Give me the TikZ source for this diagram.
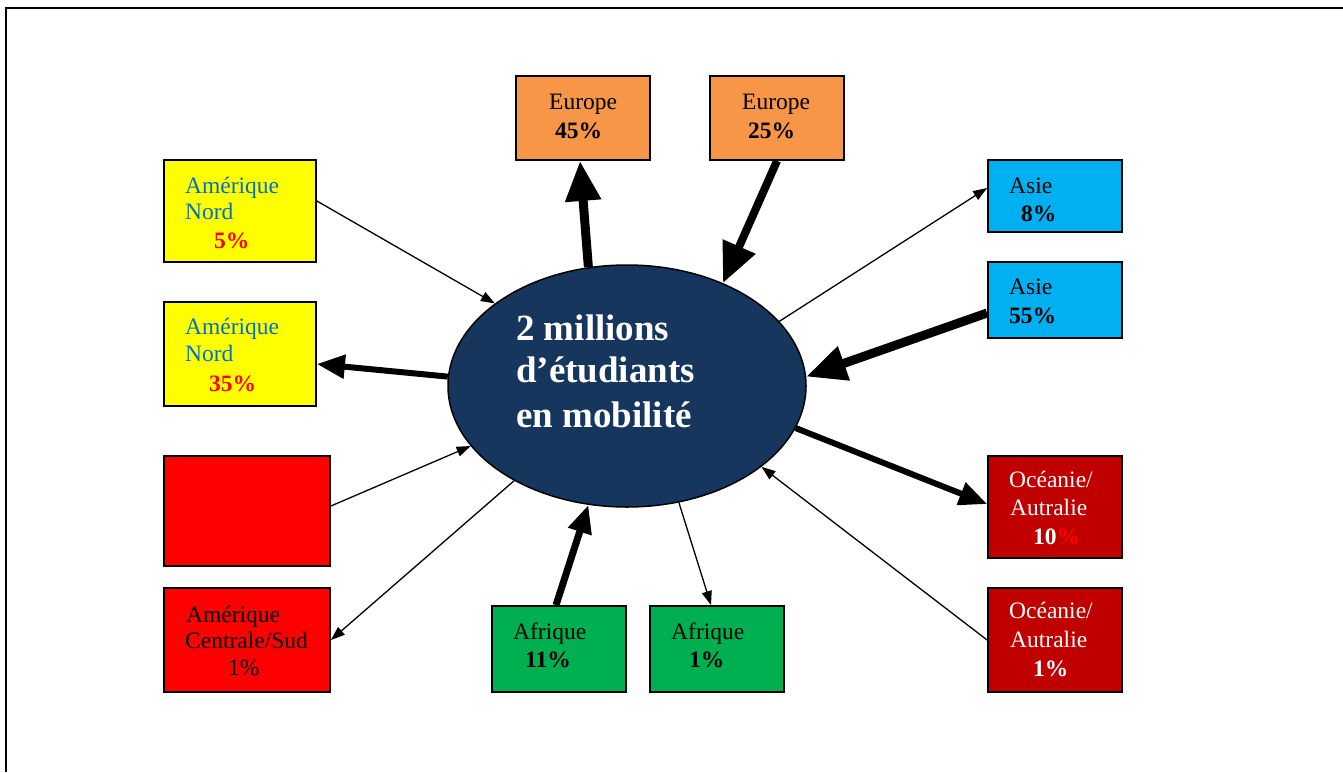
\documentclass[tikz,border=0pt]{standalone}
\usepackage{fontspec}
\setmainfont{Liberation Serif}
\usetikzlibrary{arrows.meta,shapes.geometric}
\definecolor{nblue}{HTML}{0070C0}
\definecolor{nred}{HTML}{FF0000}
\definecolor{norange}{HTML}{F79646}
\definecolor{ncyan}{HTML}{00B0F0}
\definecolor{ndred}{HTML}{C00000}
\definecolor{ngreen}{HTML}{00B050}
\definecolor{nyellow}{HTML}{FFFF00}
\definecolor{navy}{HTML}{17365D}
\begin{document}
\begin{tikzpicture}[x=1pt,y=-1pt,
  box/.style={draw=black, line width=1.8pt, inner sep=0pt},
  lbl/.style={anchor=base west, inner sep=0pt, font=\fontsize{23.5}{27}\selectfont},
  big/.style={anchor=base west, inner sep=0pt, text=white, font=\fontsize{37}{43}\selectfont\bfseries},
  thinarr/.style={line width=1.3pt, -{Triangle[length=14pt,width=10pt]}},
  arrbig/.style={-{Triangle[length=40pt,width=34pt]}},
  arrmid/.style={-{Triangle[length=28pt,width=23pt]}}]
\useasboundingbox (0,0) rectangle (1343,772);
\draw[line width=2.5pt] (6,772) -- (6,8) -- (1343,8);

% boxes
\node[box, fill=nyellow, minimum width=152pt, minimum height=102pt] (an5) at (240,211) {};
\node[box, fill=nyellow, minimum width=152pt, minimum height=104pt] (an35) at (240,354) {};
\node[box, fill=nred, minimum width=166pt, minimum height=110pt] (red) at (247,511) {};
\node[box, fill=nred, minimum width=166pt, minimum height=104pt] (acs) at (247,640) {};
\node[box, fill=norange, minimum width=134pt, minimum height=84pt] (eu45) at (583,118) {};
\node[box, fill=norange, minimum width=134pt, minimum height=84pt] (eu25) at (777,118) {};
\node[box, fill=ncyan, minimum width=134pt, minimum height=72pt] (as8) at (1055,196) {};
\node[box, fill=ncyan, minimum width=134pt, minimum height=76pt] (as55) at (1055,300) {};
\node[box, fill=ndred, minimum width=134pt, minimum height=102pt] (oc10) at (1055,507) {};
\node[box, fill=ndred, minimum width=134pt, minimum height=104pt] (oc1) at (1055,640) {};
\node[box, fill=ngreen, minimum width=134pt, minimum height=86pt] (af11) at (559,649) {};
\node[box, fill=ngreen, minimum width=134pt, minimum height=86pt] (af1) at (717,649) {};

% ellipse
\node[ellipse, draw=black, line width=1.5pt, fill=navy, minimum width=358pt, minimum height=242pt, inner sep=0pt] (ell) at (627,386) {};

% labels
\node[lbl, text=nblue] (an5a) at (185,193) {Amérique};
\node[lbl, text=nblue] (an5b) at (185,219) {Nord};
\node[lbl, text=nred, font=\fontsize{23.5}{27}\selectfont\bfseries] (an5c) at (214,248) {5\%};
\node[lbl, text=nblue] (an35a) at (185,334) {Amérique};
\node[lbl, text=nblue] (an35b) at (185,361) {Nord};
\node[lbl, text=nred, font=\fontsize{23.5}{27}\selectfont\bfseries] (an35c) at (209,391) {35\%};
\node[lbl] (acsa) at (186,622) {Amérique};
\node[lbl] (acsb) at (185,648) {Centrale/Sud};
\node[lbl] (acsc) at (228,675) {1\%};
\node[lbl] (eu45a) at (549,109) {Europe};
\node[lbl, font=\fontsize{23.5}{27}\selectfont\bfseries] (eu45b) at (555,138) {45\%};
\node[lbl] (eu25a) at (742,109) {Europe};
\node[lbl, font=\fontsize{23.5}{27}\selectfont\bfseries] (eu25b) at (748,138) {25\%};
\node[lbl] (as8a) at (1009,193) {Asie};
\node[lbl, font=\fontsize{23.5}{27}\selectfont\bfseries] (as8b) at (1021,221) {8\%};
\node[lbl] (as55a) at (1009,294) {Asie};
\node[lbl, font=\fontsize{23.5}{27}\selectfont\bfseries] (as55b) at (1009,323) {55\%};
\node[lbl, text=white] (oc10a) at (1009,487) {Océanie/};
\node[lbl, text=white] (oc10b) at (1010,515) {Autralie};
\node[lbl, text=white, font=\fontsize{23.5}{27}\selectfont\bfseries] (oc10c) at (1033,544) {10\textcolor{nred}{\%}};
\node[lbl, text=white] (oc1a) at (1009,618) {Océanie/};
\node[lbl, text=white] (oc1b) at (1010,647) {Autralie};
\node[lbl, text=white, font=\fontsize{23.5}{27}\selectfont\bfseries] (oc1c) at (1033,676) {1\%};
\node[lbl] (af11a) at (513,639) {Afrique};
\node[lbl, font=\fontsize{23.5}{27}\selectfont\bfseries] (af11b) at (525,667) {11\%};
\node[lbl] (af1a) at (671,639) {Afrique};
\node[lbl, font=\fontsize{23.5}{27}\selectfont\bfseries] (af1b) at (689,667) {1\%};
\node[big] (e1) at (516,340) {2 millions};
\node[big] (e2) at (516,382) {d’étudiants};
\node[big] (e3) at (516,427) {en mobilité};

% thin arrows
\draw[thinarr] ([yshift=10pt]an5.east) -- (ell.148);
\draw[thinarr] (ell.23) -- ([yshift=8pt]as8.west);
\draw[thinarr] ([yshift=5pt]red.east) -- (ell.201);
\draw[thinarr] (ell.220) -- (acs.east);
\draw[thinarr] (ell.294) -- ([xshift=-6pt]af1.north);
\draw[thinarr] (oc1.west) -- (ell.329);

% thick arrows
\draw[line width=9pt, arrbig] (ell.108) -- ([xshift=-3pt]eu45.south);
\draw[line width=8pt, arrbig] (eu25.south) -- (ell.47);
\draw[line width=6pt, arrmid] (ell.177) -- ([yshift=-10pt]an35.east);
\draw[line width=9pt, arrbig] ([yshift=-13pt]as55.west) -- (ell.3);
\draw[line width=6pt, arrmid] (ell.346) -- ([yshift=3pt]oc10.west);
\draw[line width=7pt, arrmid] ([xshift=-3pt]af11.north) -- (ell.252);
\end{tikzpicture}
\end{document}
